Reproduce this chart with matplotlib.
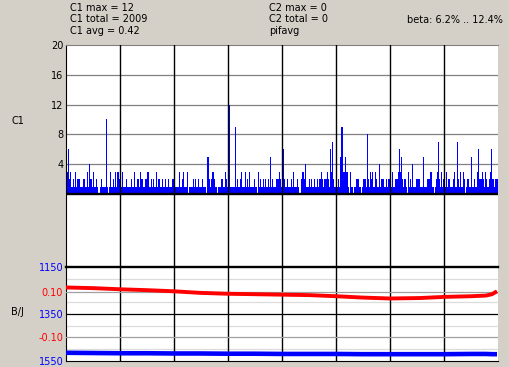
import matplotlib
matplotlib.use("Agg")
import matplotlib.pyplot as plt
import numpy as np

# C1 counts, one value per pixel column (8 grid cells of 54 columns)
c1_counts = [
    3,3,6,2,3,1,1,2,1,3, 1,2,2,2,1,1,1,2,2,1, 1,3,1,4,2,2,1,3,1,1, 2,1,0,0,1,2,1,1,1,1, 10,1,0,1,3,1,1,2,1,3, 1,3,3,2,
    1,1,3,1,1,1,2,1,1,1, 1,2,1,1,3,1,1,2,2,1, 3,2,2,1,1,2,2,3,3,1, 1,2,1,2,1,1,3,1,2,2, 1,1,2,1,1,2,1,1,2,1, 1,1,2,2,
    1,1,1,1,1,3,1,1,2,3, 1,1,1,3,0,1,1,1,1,2, 1,2,1,1,2,1,1,1,2,1, 1,1,0,5,5,2,1,2,3,3, 2,1,1,0,1,1,1,2,2,1, 1,3,2,1,
    7,12,1,1,1,1,1,9,1,2, 1,1,2,3,1,1,1,3,1,2, 1,3,1,1,1,1,2,1,1,0, 3,1,2,1,1,2,1,2,1,1, 2,1,5,1,2,1,1,1,2,2, 2,3,2,1,
    2,6,2,1,1,2,1,1,1,2, 1,3,1,1,1,2,1,0,0,2, 3,3,2,4,1,1,1,2,1,2, 1,1,2,1,1,2,1,2,2,3, 2,1,2,2,2,3,2,1,6,3, 7,2,1,1,
    1,1,2,1,5,9,9,3,3,5, 3,3,1,0,3,1,1,0,1,1, 2,2,2,1,1,0,1,2,2,2, 1,8,2,1,3,2,3,1,1,3, 2,1,1,4,1,2,2,2,1,1, 2,1,2,2,
    2,1,3,1,1,2,2,2,3,6, 3,5,2,1,2,2,1,0,3,1, 2,1,4,1,1,1,2,2,2,2, 1,1,1,5,1,1,1,2,2,2, 3,3,1,1,0,1,2,3,7,2, 1,3,1,2,
    1,1,3,1,2,2,1,1,1,2, 3,1,1,7,2,1,3,1,1,3, 2,0,1,2,2,1,1,5,1,1, 2,1,1,3,6,2,2,2,3,2, 1,3,2,1,1,2,3,6,2,2, 1,2,2,2,
]

# lower panel traces
line_x = [0, 27, 54, 81, 108, 134, 162, 189, 216, 243, 270, 297, 324, 354, 378, 405, 420, 426, 431]
pif_vals = [0.121, 0.118, 0.113, 0.109, 0.104, 0.097, 0.093, 0.091, 0.089, 0.087,
            0.082, 0.076, 0.072, 0.074, 0.079, 0.082, 0.085, 0.091, 0.104]
bj_vals = [1515, 1516, 1517, 1517, 1518, 1518, 1519, 1519, 1520, 1520,
           1520, 1521, 1521, 1521, 1521, 1520, 1520, 1521, 1521]

c1_ticks = [4, 8, 12, 16, 20]
bj_ticks = [1150, 1350, 1550]
pif_ticks = [0.10, -0.10]
header_left = ["C1 max = 12", "C1 total = 2009", "C1 avg = 0.42"]
header_mid = ["C2 max = 0", "C2 total = 0", "pifavg"]
beta_text = "beta: 6.2% .. 12.4%"

BG = "#D4D0C8"
BLUE = "#0000FF"
RED = "#FF0000"
FS = 7
W, H = 509, 367

plt.rcParams["font.family"] = ["DejaVu Sans"]
fig = plt.figure(figsize=(W / 100, H / 100), dpi=100, facecolor=BG)

ax1 = fig.add_axes([66 / W, 100 / H, 432 / W, 222 / H])
ax2 = fig.add_axes([66 / W, 6 / H, 432 / W, 94 / H])

ncol = len(c1_counts)
cols = np.arange(ncol)

# --- upper panel ---
ax1.set_xlim(0, ncol)
ax1.set_ylim(-9.8, 20)
for v in c1_ticks[:-1]:
    ax1.axhline(v, color="#808080", lw=0.9, zorder=1)
ax1.bar(cols, c1_counts, width=1.0, align="edge", color=BLUE, linewidth=0,
        antialiased=False, zorder=2)
ax1.axhline(0, color="black", lw=1.7, zorder=3)
for xv in range(54, ncol, 54):
    ax1.axvline(xv, color="black", lw=1.0, zorder=4)
ax1.set_yticks(c1_ticks)
ax1.set_yticklabels([str(t) for t in c1_ticks], fontsize=FS)
ax1.set_xticks([])
ax1.tick_params(axis="y", length=0, pad=2)
for s in ["right", "bottom"]:
    ax1.spines[s].set_visible(False)
ax1.spines["top"].set_color("#808080")
ax1.spines["left"].set_color("black")

# --- lower panel ---
ax2.set_xlim(0, ncol)
ax2.set_ylim(1550, 1150)
for v in [1200, 1300, 1400, 1500]:
    ax2.axhline(v, color="#DCDCDC", lw=0.9, zorder=1)
ax2.axhline(1350, color="black", lw=0.9, zorder=1)
ax2.axhline(1150, color="black", lw=1.7, zorder=5, clip_on=False)
for xv in range(54, ncol, 54):
    ax2.axvline(xv, color="black", lw=1.0, zorder=2)
ax2.plot(line_x, bj_vals, color=BLUE, lw=3.3, zorder=3, solid_capstyle="butt")
ax2.set_yticks(bj_ticks)
ax2.set_yticklabels([str(t) for t in bj_ticks], fontsize=FS, color=BLUE)
ax2.set_xticks([])
ax2.tick_params(axis="y", length=0, pad=2)
ax2.spines["right"].set_visible(False)
ax2.spines["top"].set_visible(False)

ax3 = ax2.twinx()
ax3.set_ylim(-0.206, 0.212)
for v in pif_ticks:
    ax3.axhline(v, color="#A0A0A0", lw=0.9, zorder=1)
ax3.plot(line_x, pif_vals, color=RED, lw=2.8, zorder=3, solid_capstyle="butt")
ax3.yaxis.tick_left()
ax3.set_yticks(pif_ticks)
ax3.set_yticklabels(["%.2f" % t for t in pif_ticks], fontsize=FS, color=RED)
ax3.tick_params(axis="y", length=0, pad=2)
for s in ax3.spines.values():
    s.set_visible(False)

# --- texts ---
for i, t in enumerate(header_left):
    fig.text(70 / W, 1 - (7.7 + 11.8 * i) / H, t, fontsize=FS, va="center", ha="left")
for i, t in enumerate(header_mid):
    fig.text(269 / W, 1 - (7.7 + 11.8 * i) / H, t, fontsize=FS, va="center", ha="left")
fig.text(503 / W, 1 - 19.7 / H, beta_text, fontsize=FS, va="center", ha="right")
fig.text(11 / W, 1 - 120.7 / H, "C1", fontsize=FS, va="center", ha="left")
fig.text(11 / W, 1 - 311.7 / H, "B/J", fontsize=FS, va="center", ha="left")

fig.savefig("out.png", dpi=100, facecolor=BG)
